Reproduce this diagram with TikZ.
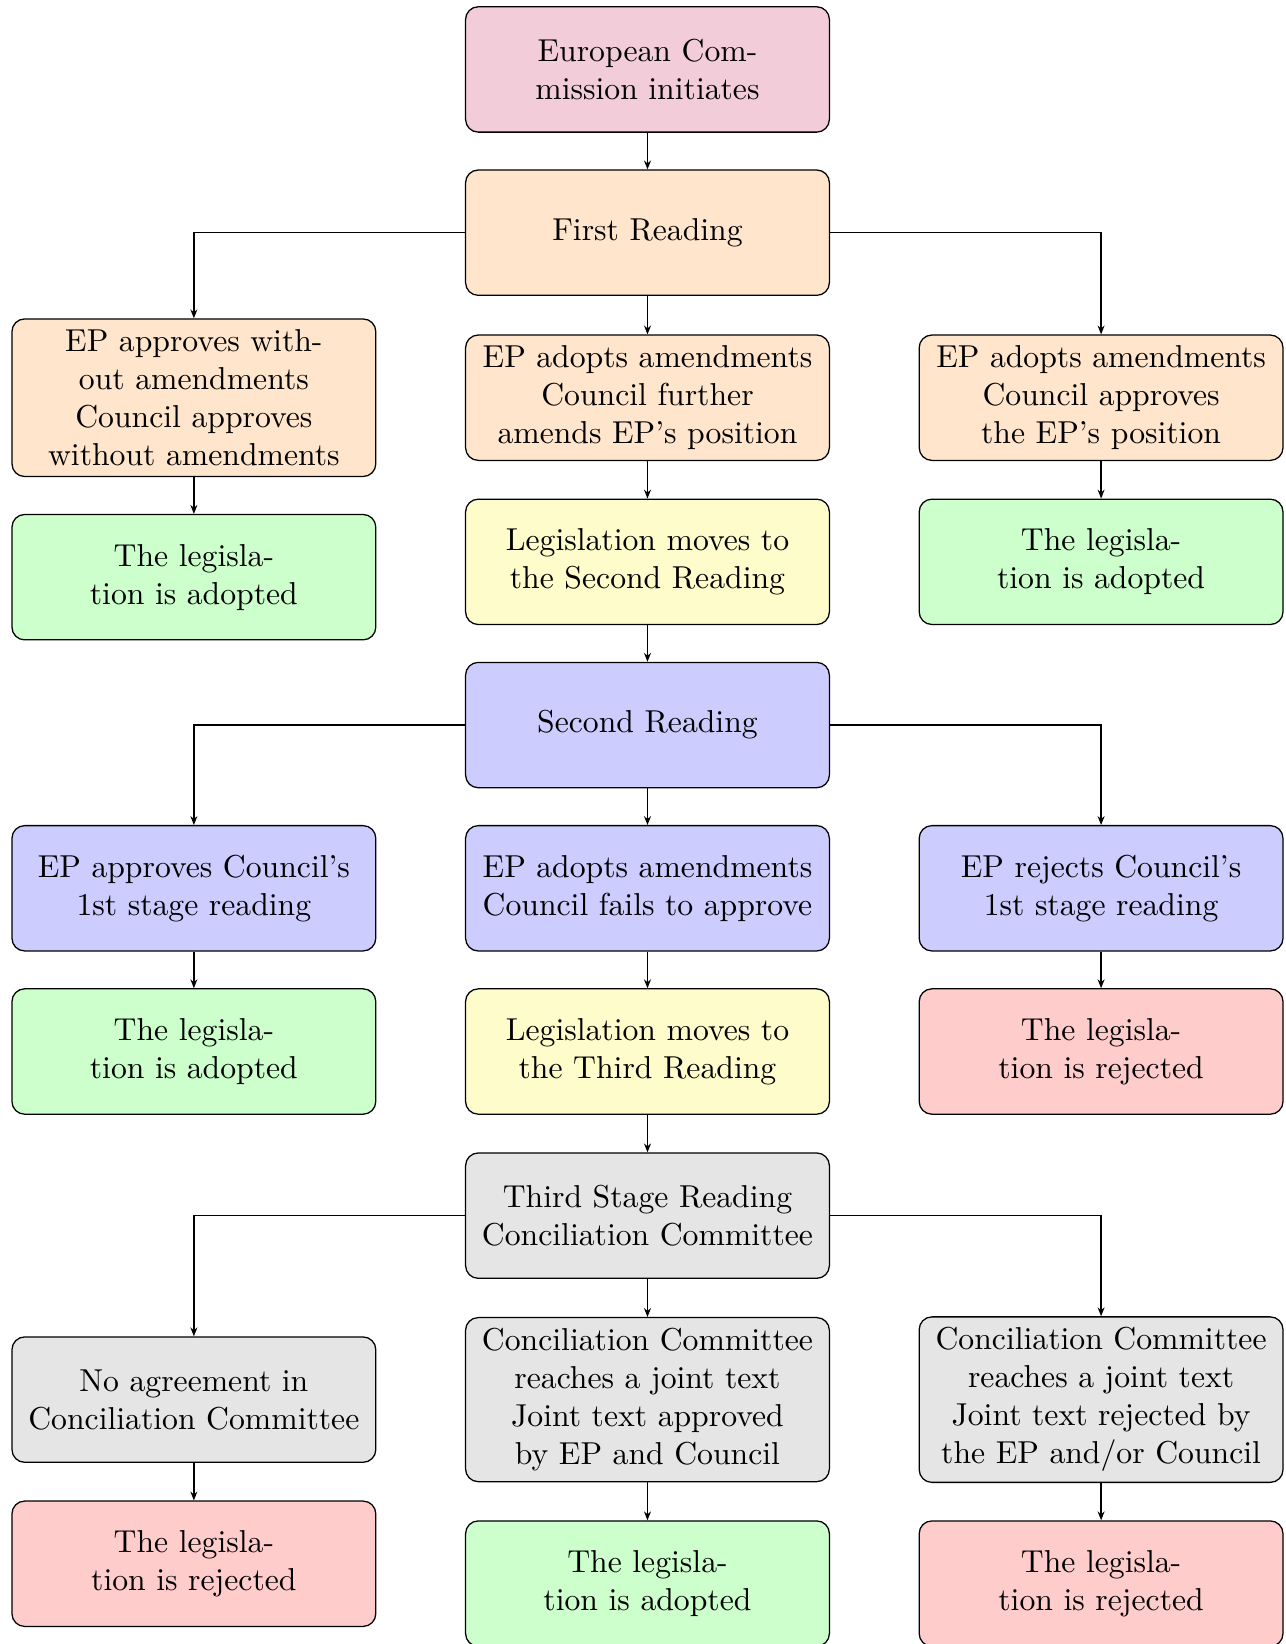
\documentclass[tikz,border=0pt]{standalone}
\usetikzlibrary{arrows.meta}
\begin{document}
\begin{tikzpicture}
[   stage/.style={draw=black,fill=#1,rectangle,rounded corners,text width=3.8cm,align=center,minimum height=1.39cm},
    >={Stealth[length=2.8pt,width=2.2pt]},
]
\useasboundingbox (-7.18,0.77) rectangle (7.08,-17.46);

%%%%%%%%%%%%%%%%%%%% PROPOSAL %%%%%%%%%%%%%%%%%%%%%%%%%%%%%%%%%%%
    \node[stage=purple!20] (ec) at (0,0) {European Commission initiates};

%%%%%%%%%%%%%%%%%%%% FIRST READING %%%%%%%%%%%%%%%%%%%%%%%%%%%%%%%%%%%
    \node[stage=orange!20] (r1) at (0,-1.81) {First Reading};
    \node[stage=orange!20] (r1l) at (-5.03,-3.64) {EP approves without amendments\\Council approves without amendments};
    \node[stage=orange!20] (r1c) at (0,-3.64) {EP adopts amendments\\Council further amends EP's position};
    \node[stage=orange!20] (r1r) at (5.03,-3.64) {EP adopts amendments\\Council approves the EP's position};
    \node[stage=green!20] (r1l-out) at (-5.03,-5.63) {The legislation is adopted};
    \node[stage=yellow!20] (r1c-out) at (0,-5.46) {Legislation moves to the Second Reading};
    \node[stage=green!20] (r1r-out) at (5.03,-5.46) {The legislation is adopted};
    \draw[->] (r1.west) -| (r1l);
    \draw[->] (r1.east) -| (r1r);

%%%%%%%%%%%%%%%%%%%% SECOND READING %%%%%%%%%%%%%%%%%%%%%%%%%%%%%%%%%%%
    \node[stage=blue!20] (r2) at (0,-7.27) {Second Reading};
    \node[stage=blue!20] (r2l) at (-5.03,-9.08) {EP approves Council's 1st stage reading};
    \node[stage=blue!20] (r2c) at (0,-9.08) {EP adopts amendments\\Council fails to approve};
    \node[stage=blue!20] (r2r) at (5.03,-9.08) {EP rejects Council's 1st stage reading};
    \node[stage=green!20] (r2l-out) at (-5.03,-10.89) {The legislation is adopted};
    \node[stage=yellow!20] (r2c-out) at (0,-10.89) {Legislation moves to the Third Reading};
    \node[stage=red!20] (r2r-out) at (5.03,-10.89) {The legislation is rejected};
    \draw[->] (r2.west) -| (r2l);
    \draw[->] (r2.east) -| (r2r);

%%%%%%%%%%%%%%%%%%%% THIRD READING %%%%%%%%%%%%%%%%%%%%%%%%%%%%%%%%%%%
    \node[stage=gray!20] (r3) at (0,-12.71) {Third Stage Reading\\Conciliation Committee};
    \node[stage=gray!20] (r3l) at (-5.03,-14.75) {No agreement in Conciliation Committee};
    \node[stage=gray!20] (r3c) at (0,-14.75) {Conciliation Committee reaches a joint text\\Joint text approved by EP and Council};
    \node[stage=gray!20] (r3r) at (5.03,-14.75) {Conciliation Committee reaches a joint text\\Joint text rejected by the EP and/or Council};
    \node[stage=red!20] (r3l-out) at (-5.03,-16.57) {The legislation is rejected};
    \node[stage=green!20] (r3c-out) at (0,-16.79) {The legislation is adopted};
    \node[stage=red!20] (r3r-out) at (5.03,-16.79) {The legislation is rejected};
    \draw[->] (r3.west) -| (r3l);
    \draw[->] (r3.east) -| (r3r);

    % straight arrows down each column
    \foreach \a/\b in {ec/r1, r1/r1c, r1l/r1l-out, r1c/r1c-out, r1r/r1r-out, r1c-out/r2,
                       r2/r2c, r2l/r2l-out, r2c/r2c-out, r2r/r2r-out, r2c-out/r3,
                       r3/r3c, r3l/r3l-out, r3c/r3c-out, r3r/r3r-out}
    {
        \draw[->] (\a) -- (\b);
    }

\end{tikzpicture}
\end{document}
